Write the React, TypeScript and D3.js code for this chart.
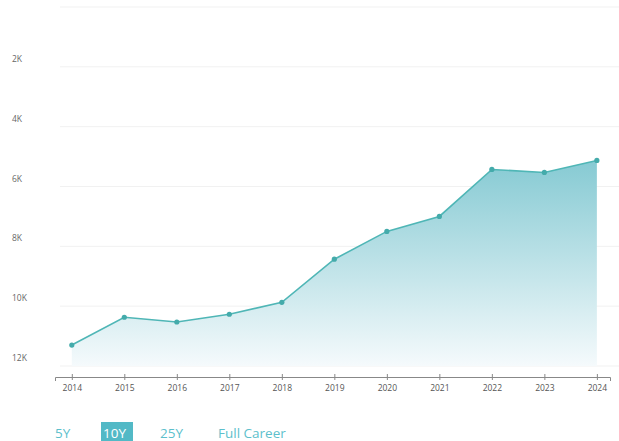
import * as d3 from 'd3';
import { useRef, useEffect } from 'react';

const years = [2014, 2015, 2016, 2017, 2018, 2019, 2020, 2021, 2022, 2023, 2024];
const ranks = [11300, 10370, 10530, 10270, 9870, 8430, 7500, 7000, 5430, 5530, 5130];
const yTicks = [0, 2000, 4000, 6000, 8000, 10000, 12000];
const ranges = ['5Y', '10Y', '25Y', 'Full Career'];
const activeRange = '10Y';

const App = () => {
    const svgRef = useRef<SVGSVGElement | null>(null);

    useEffect(() => {
        const width = 619;
        const height = 441;

        d3.select(svgRef.current).selectAll('*').remove();

        const svg = d3.select(svgRef.current)
            .attr('width', width)
            .attr('height', height);

        // scales (rank axis is reversed: small numbers on top)
        const x = d3.scaleLinear().domain([2013.68, 2024.25]).range([55, 610]);
        const y = d3.scaleLinear().domain([0, 12000]).range([7, 366]);

        const defs = svg.append('defs');
        const grad = defs.append('linearGradient')
            .attr('id', 'areaFill')
            .attr('gradientUnits', 'userSpaceOnUse')
            .attr('x1', 0).attr('x2', 0)
            .attr('y1', y(d3.min(ranks)!)).attr('y2', y(12000));
        grad.append('stop').attr('offset', '0%').attr('stop-color', '#86cad3');
        grad.append('stop').attr('offset', '100%').attr('stop-color', '#f5fafc');

        // gridlines
        svg.append('g')
            .selectAll('line')
            .data(yTicks)
            .enter()
            .append('line')
            .attr('x1', 60)
            .attr('x2', width)
            .attr('y1', d => y(d))
            .attr('y2', d => y(d))
            .attr('stroke', '#f1f1f1')
            .attr('stroke-width', 1);

        // y labels
        svg.append('g')
            .selectAll('text')
            .data(yTicks.filter(d => d > 0))
            .enter()
            .append('text')
            .attr('x', 12)
            .attr('y', d => y(d) - 5)
            .text(d => `${d / 1000}K`)
            .attr('font-family', 'Open Sans, sans-serif')
            .attr('font-size', 8.5)
            .attr('fill', '#666');

        const points = years.map((yr, i) => ({ yr, v: ranks[i] }));

        const area = d3.area<{ yr: number, v: number }>()
            .x(d => x(d.yr))
            .y0(y(12000))
            .y1(d => y(d.v));

        svg.append('path')
            .datum(points)
            .attr('d', area)
            .attr('fill', 'url(#areaFill)');

        const line = d3.line<{ yr: number, v: number }>()
            .x(d => x(d.yr))
            .y(d => y(d.v));

        svg.append('path')
            .datum(points)
            .attr('d', line)
            .attr('fill', 'none')
            .attr('stroke', '#4fb6b6')
            .attr('stroke-width', 1.6);

        svg.selectAll('circle')
            .data(points)
            .enter()
            .append('circle')
            .attr('cx', d => x(d.yr))
            .attr('cy', d => y(d.v))
            .attr('r', 2.6)
            .attr('fill', '#44abab');

        // x axis
        const xAxis = svg.append('g')
            .attr('transform', 'translate(0,377)')
            .call(d3.axisBottom(x).tickValues(years).tickFormat(d3.format('d')).tickSize(4).tickSizeOuter(4));

        xAxis.select('.domain').attr('stroke', '#888');
        xAxis.selectAll('.tick line').attr('stroke', '#888').attr('y1', -3).attr('y2', 3);
        xAxis.selectAll('.tick text')
            .attr('y', 8)
            .attr('font-family', 'Open Sans, sans-serif')
            .attr('font-size', 8.5)
            .attr('fill', '#555');

        // range buttons
        const btnX = [55, 103, 160, 218];
        const btns = svg.append('g');
        ranges.forEach((r, i) => {
            if (r === activeRange) {
                btns.append('rect')
                    .attr('x', btnX[i] - 2)
                    .attr('y', 422)
                    .attr('width', 32)
                    .attr('height', 22)
                    .attr('fill', '#52b9c6');
            }
            btns.append('text')
                .attr('x', btnX[i])
                .attr('y', 438)
                .text(r)
                .attr('font-family', 'Open Sans, sans-serif')
                .attr('font-size', 13.5)
                .attr('fill', r === activeRange ? '#ffffff' : '#5dbfcc');
        });
    }, []);

    return (
        <svg ref={svgRef} style={{ position: 'absolute', left: 0, top: 0, display: 'block' }}></svg>
    );
};

export default App;
